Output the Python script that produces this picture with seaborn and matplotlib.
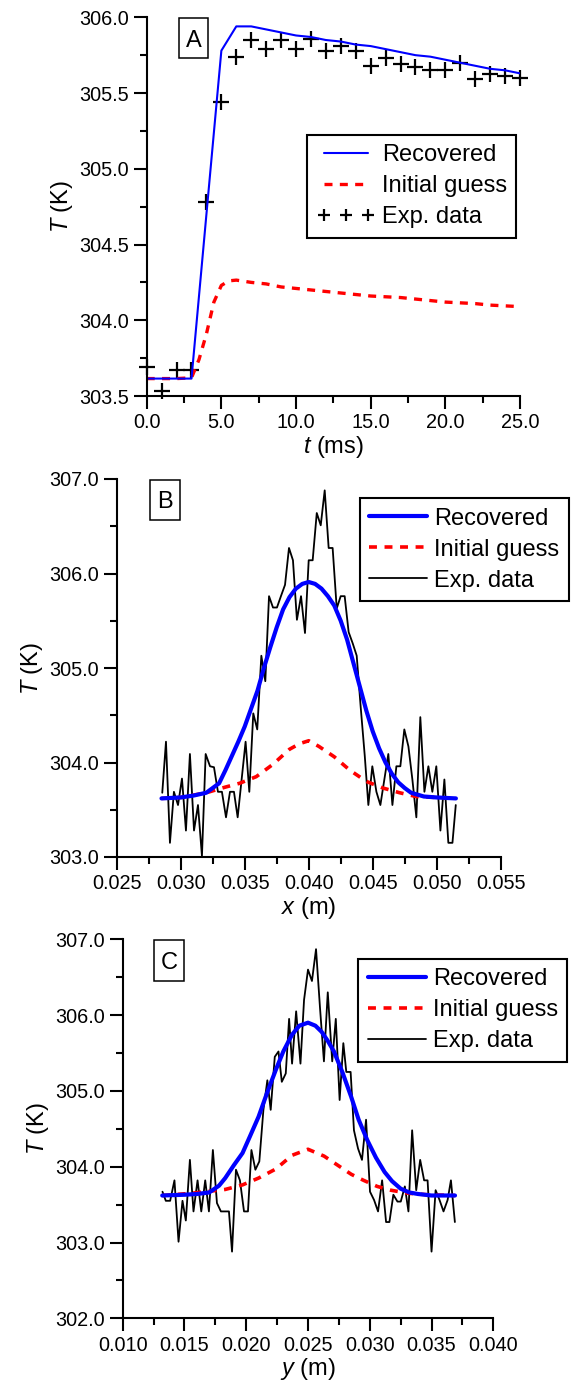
import numpy as np
import pandas as pd
import matplotlib
matplotlib.use("Agg")
import matplotlib.pyplot as plt
from matplotlib.ticker import MultipleLocator, FormatStrFormatter
from matplotlib.patches import Rectangle
import seaborn as sns

# ---------------- Panel A data ----------------
tA_exp = [0, 1, 2, 3, 4, 5, 6, 7, 8, 9, 10, 11, 12, 13, 14, 15, 16, 17, 18, 19, 20, 21, 22, 23, 24, 25]
TA_exp = [303.69, 303.53, 303.67, 303.67, 304.78, 305.44, 305.74, 305.85, 305.79, 305.85, 305.79, 305.86,
          305.78, 305.81, 305.78, 305.68, 305.73, 305.69, 305.67, 305.65, 305.65, 305.70, 305.59, 305.625,
          305.61, 305.60]
tA_rec = [0, 1, 2, 3, 4, 5, 6, 7, 8, 9, 10, 11, 12, 13, 14, 15, 16, 17, 18, 19, 20, 21, 22, 23, 24, 25]
TA_rec = [303.615, 303.615, 303.615, 303.615, 304.70, 305.78, 305.94, 305.94, 305.92, 305.90, 305.88, 305.87,
          305.85, 305.84, 305.82, 305.81, 305.79, 305.77, 305.75, 305.74, 305.72, 305.70, 305.68, 305.66,
          305.65, 305.63]
tA_ini = [0, 1, 2, 3, 3.5, 4, 4.5, 5, 5.5, 6, 7, 8, 9, 10, 11, 12, 13, 14, 15, 16, 17, 18, 19, 20, 21, 22, 23, 24, 25]
TA_ini = [303.615, 303.615, 303.615, 303.62, 303.74, 303.91, 304.12, 304.23, 304.26, 304.265, 304.25, 304.24,
          304.22, 304.21, 304.20, 304.19, 304.18, 304.17, 304.16, 304.155, 304.15, 304.14, 304.13, 304.12,
          304.115, 304.11, 304.10, 304.095, 304.09]

# ---------------- Panel B data ----------------
xB_exp = [0.02856, 0.02885, 0.02916, 0.02947, 0.02979, 0.03010, 0.03041, 0.03072, 0.03104, 0.03135,
          0.03166, 0.03195, 0.03229, 0.03260, 0.03291, 0.03322, 0.03354, 0.03385, 0.03416, 0.03445,
          0.03476, 0.03507, 0.03536, 0.03567, 0.03598, 0.03630, 0.03661, 0.03690, 0.03721, 0.03752,
          0.03783, 0.03815, 0.03846, 0.03877, 0.03908, 0.03940, 0.03971, 0.04000, 0.04031, 0.04063,
          0.04094, 0.04125, 0.04156, 0.04187, 0.04219, 0.04250, 0.04281, 0.04312, 0.04344, 0.04375,
          0.04406, 0.04438, 0.04466, 0.04497, 0.04529, 0.04560, 0.04591, 0.04622, 0.04654, 0.04685,
          0.04716, 0.04747, 0.04779, 0.04810, 0.04841, 0.04872, 0.04904, 0.04935, 0.04966, 0.04997,
          0.05029, 0.05060, 0.05091, 0.05123, 0.05149]
TB_exp = [303.68, 304.22, 303.15, 303.69, 303.55, 303.83, 303.28, 304.09, 303.28, 303.55,
          303.01, 304.09, 303.96, 303.95, 303.69, 303.69, 303.42, 303.69, 303.69, 303.42,
          303.82, 304.22, 303.69, 304.52, 304.35, 305.13, 304.86, 305.76, 305.64, 305.64,
          305.76, 305.88, 306.27, 306.14, 305.51, 305.76, 305.37, 306.14, 306.14, 306.64,
          306.51, 306.88, 306.27, 306.27, 305.63, 305.76, 305.76, 305.38, 305.26, 305.13,
          304.59, 304.07, 303.55, 303.96, 303.69, 303.55, 303.82, 304.09, 303.55, 303.96,
          303.96, 304.35, 304.17, 303.82, 303.42, 304.48, 303.69, 303.96, 303.69, 303.96,
          303.28, 303.82, 303.15, 303.15, 303.55]
xB_rec = [0.0285, 0.0300, 0.0310, 0.0320, 0.0330, 0.0335, 0.0340, 0.0345, 0.0350, 0.0355, 0.0360,
          0.0365, 0.0370, 0.0375, 0.0380, 0.0385, 0.0390, 0.0395, 0.0400, 0.0405, 0.0410, 0.0415,
          0.0420, 0.0425, 0.0430, 0.0435, 0.0440, 0.0445, 0.0450, 0.0455, 0.0460, 0.0465, 0.0470,
          0.0475, 0.0480, 0.0490, 0.0500, 0.0515]
TB_rec = [303.62, 303.63, 303.65, 303.68, 303.78, 303.92, 304.07, 304.22, 304.38, 304.57, 304.76,
          305.00, 305.22, 305.43, 305.62, 305.75, 305.84, 305.89, 305.91, 305.89, 305.84, 305.76,
          305.66, 305.50, 305.30, 305.05, 304.80, 304.55, 304.33, 304.15, 304.00, 303.88, 303.79,
          303.73, 303.68, 303.64, 303.63, 303.62]
xB_ini = [0.0285, 0.0300, 0.0320, 0.0335, 0.0346, 0.0359, 0.0372, 0.0385, 0.0393, 0.0400, 0.0408,
          0.0420, 0.0432, 0.0445, 0.0458, 0.0471, 0.0484, 0.0500, 0.0515]
TB_ini = [303.62, 303.63, 303.68, 303.74, 303.78, 303.85, 303.98, 304.14, 304.20, 304.23, 304.17,
          304.06, 303.92, 303.80, 303.73, 303.68, 303.64, 303.63, 303.62]

# ---------------- Panel C data ----------------
yC_exp = [0.01322, 0.01349, 0.01384, 0.01419, 0.01452, 0.01484, 0.01511, 0.01544, 0.01573, 0.01606,
          0.01636, 0.01668, 0.01698, 0.01730, 0.01763, 0.01795, 0.01828, 0.01860, 0.01885, 0.01917,
          0.01949, 0.01982, 0.02014, 0.02042, 0.02074, 0.02106, 0.02139, 0.02171, 0.02198, 0.02231,
          0.02261, 0.02288, 0.02320, 0.02347, 0.02371, 0.02404, 0.02439, 0.02468, 0.02500, 0.02532,
          0.02565, 0.02597, 0.02629, 0.02660, 0.02696, 0.02725, 0.02756, 0.02786, 0.02810, 0.02845,
          0.02872, 0.02905, 0.02937, 0.02970, 0.03002, 0.03035, 0.03067, 0.03100, 0.03132, 0.03159,
          0.03191, 0.03224, 0.03251, 0.03284, 0.03313, 0.03343, 0.03376, 0.03408, 0.03440, 0.03468,
          0.03500, 0.03533, 0.03565, 0.03597, 0.03630, 0.03657, 0.03689]
TC_exp = [303.67, 303.55, 303.55, 303.82, 303.01, 303.55, 303.29, 304.09, 303.41, 303.82,
          303.41, 303.82, 303.41, 304.22, 303.52, 303.41, 303.41, 303.41, 302.88, 303.96,
          303.82, 303.41, 303.41, 304.22, 303.96, 304.07, 304.75, 305.14, 304.75, 305.45,
          305.52, 305.12, 305.23, 305.95, 305.36, 306.05, 305.36, 306.20, 306.60, 306.45,
          306.87, 306.10, 305.39, 306.30, 305.39, 305.95, 304.88, 305.63, 305.25, 305.25,
          304.48, 304.24, 304.09, 304.62, 303.67, 303.56, 303.41, 303.82, 303.27, 303.27,
          303.63, 303.54, 303.54, 303.74, 303.41, 304.48, 303.69, 304.09, 303.82, 303.82,
          302.88, 303.69, 303.56, 303.41, 303.56, 303.82, 303.27]
yC_rec = [0.0132, 0.0150, 0.0160, 0.0170, 0.0178, 0.0183, 0.0190, 0.0197, 0.0203, 0.0210, 0.0217,
          0.0224, 0.0230, 0.0237, 0.0243, 0.0250, 0.0256, 0.0261, 0.0266, 0.0271, 0.0278, 0.0285,
          0.0291, 0.0298, 0.0305, 0.0312, 0.0318, 0.0325, 0.0332, 0.0339, 0.0350, 0.0369]
TC_rec = [303.62, 303.63, 303.64, 303.66, 303.75, 303.85, 304.02, 304.18, 304.40, 304.66, 304.98,
          305.28, 305.52, 305.74, 305.86, 305.90, 305.86, 305.78, 305.66, 305.52, 305.24, 304.92,
          304.62, 304.35, 304.12, 303.93, 303.81, 303.71, 303.66, 303.64, 303.62, 303.62]
yC_ini = [0.0132, 0.0156, 0.0183, 0.0197, 0.0210, 0.0224, 0.0237, 0.0250, 0.0263, 0.0274, 0.0285,
          0.0295, 0.0306, 0.0317, 0.0331, 0.0347, 0.0369]
TC_ini = [303.62, 303.65, 303.70, 303.76, 303.85, 303.97, 304.15, 304.23, 304.14, 304.02, 303.90,
          303.82, 303.74, 303.69, 303.65, 303.63, 303.62]

legend_labels = ["Recovered", "Initial guess", "Exp. data"]
panel_tags = ["A", "B", "C"]

# ---------------- Styling ----------------
sns.set_theme(style="ticks")
plt.rcParams["font.family"] = ["Liberation Sans", "DejaVu Sans"]
plt.rcParams["mathtext.fontset"] = "custom"
plt.rcParams["mathtext.rm"] = "Liberation Sans"
plt.rcParams["mathtext.it"] = "Liberation Sans:italic"
plt.rcParams["axes.unicode_minus"] = False
plt.rcParams["text.color"] = "black"
plt.rcParams["axes.labelcolor"] = "black"
plt.rcParams["xtick.color"] = "black"
plt.rcParams["ytick.color"] = "black"

W, H = 574, 1389
fig = plt.figure(figsize=(W / 100, H / 100), dpi=100)
fig.patch.set_facecolor("white")


def px_axes(x0, x1, ytop, ybot):
    return fig.add_axes([x0 / W, 1 - ybot / H, (x1 - x0) / W, (ybot - ytop) / H])


def style_axes(ax, xlim, ylim, xmaj, xmin, ymaj, ymin, xfmt, yfmt, xlabel):
    ax.set_facecolor("white")
    ax.set_xlim(*xlim)
    ax.set_ylim(*ylim)
    ax.xaxis.set_major_locator(MultipleLocator(xmaj))
    ax.xaxis.set_minor_locator(MultipleLocator(xmin))
    ax.yaxis.set_major_locator(MultipleLocator(ymaj))
    ax.yaxis.set_minor_locator(MultipleLocator(ymin))
    ax.xaxis.set_major_formatter(FormatStrFormatter(xfmt))
    ax.yaxis.set_major_formatter(FormatStrFormatter(yfmt))
    for s in ["top", "right"]:
        ax.spines[s].set_visible(False)
    for s in ["left", "bottom"]:
        ax.spines[s].set_linewidth(1.5)
        ax.spines[s].set_color("black")
    ax.tick_params(which="major", direction="out", length=9.5, width=1.5, color="black",
                   labelsize=14.3, labelcolor="black", pad=3)
    ax.tick_params(which="minor", direction="out", length=5, width=1.5, color="black")
    ax.set_xlabel(xlabel, fontsize=17, labelpad=1, color="black")
    ax.set_ylabel(r"$T$ (K)", fontsize=17, labelpad=3, color="black")
    ax.grid(False)


def tag(x0, y0, x1, y1, s):
    fig.add_artist(Rectangle((x0 / W, 1 - y1 / H), (x1 - x0) / W, (y1 - y0) / H,
                             transform=fig.transFigure, facecolor="white", edgecolor="black",
                             linewidth=1.1, zorder=5))
    cy = (y0 + y1) / 2
    fig.text((x0 + x1) / 2 / W, 1 - (cy + 8.3) / H, s, ha="center", va="baseline",
             fontsize=17, color="black", zorder=6)


def add_legend(ax, handles, anchor, numpoints=1, markerscale=1.0):
    leg = ax.legend(handles, legend_labels, loc="upper left", bbox_to_anchor=anchor,
                    frameon=True, fancybox=False, edgecolor="black", framealpha=1, fontsize=17,
                    handlelength=2.45, handletextpad=0.3, borderpad=0.4, labelspacing=0.38,
                    borderaxespad=0, numpoints=numpoints, markerscale=markerscale)
    leg.get_frame().set_linewidth(1.5)
    for t in leg.get_texts():
        t.set_color("black")
    return leg


# ---------------- Panel A ----------------
axA = px_axes(146.7, 520, 17.3, 396)
sns.lineplot(x=tA_exp, y=TA_exp, ax=axA, marker="+", linestyle="", markersize=12,
             mew=1.6, mec="black", color="black", sort=False, estimator=None, clip_on=False)
hA_exp = axA.lines[-1]
sns.lineplot(x=tA_ini, y=TA_ini, ax=axA, color="#ff0000", lw=2.4, linestyle=(0, (2.4, 2.2)),
             sort=False, estimator=None)
hA_ini = axA.lines[-1]
sns.lineplot(x=tA_rec, y=TA_rec, ax=axA, color="#0000ff", lw=1.5, sort=False, estimator=None)
hA_rec = axA.lines[-1]
style_axes(axA, (0, 25), (303.5, 306.0), 5, 2.5, 0.5, 0.25, "%.1f", "%.1f", r"$t$ (ms)")
add_legend(axA, [hA_rec, hA_ini, hA_exp], ((307.3 - 146.7) / 373.3, (396 - 135) / 378.7),
           numpoints=3, markerscale=0.72)
tag(179, 18.3, 208.3, 58.3, panel_tags[0])

# ---------------- Panel B ----------------
axB = px_axes(116.7, 500.7, 479, 857)
sns.lineplot(x=xB_exp, y=TB_exp, ax=axB, color="black", lw=1.3, sort=False, estimator=None)
hB_exp = axB.lines[-1]
sns.lineplot(x=xB_ini, y=TB_ini, ax=axB, color="#ff0000", lw=2.6, linestyle=(0, (2.2, 2.1)),
             sort=False, estimator=None)
hB_ini = axB.lines[-1]
sns.lineplot(x=xB_rec, y=TB_rec, ax=axB, color="#0000ff", lw=3.0, sort=False, estimator=None)
hB_rec = axB.lines[-1]
style_axes(axB, (0.025, 0.055), (303.0, 307.0), 0.005, 0.0025, 1.0, 0.5, "%.3f", "%.1f", r"$x$ (m)")
add_legend(axB, [hB_rec, hB_ini, hB_exp], ((360 - 116.7) / 384, (857 - 498.3) / 378))
tag(150, 480, 180, 520, panel_tags[1])

# ---------------- Panel C ----------------
axC = px_axes(122.7, 493.3, 939.3, 1318.3)
sns.lineplot(x=yC_exp, y=TC_exp, ax=axC, color="black", lw=1.3, sort=False, estimator=None)
hC_exp = axC.lines[-1]
sns.lineplot(x=yC_ini, y=TC_ini, ax=axC, color="#ff0000", lw=2.6, linestyle=(0, (2.2, 2.1)),
             sort=False, estimator=None)
hC_ini = axC.lines[-1]
sns.lineplot(x=yC_rec, y=TC_rec, ax=axC, color="#0000ff", lw=3.0, sort=False, estimator=None)
hC_rec = axC.lines[-1]
style_axes(axC, (0.010, 0.040), (302.0, 307.0), 0.005, 0.0025, 1.0, 0.5, "%.3f", "%.1f", r"$y$ (m)")
add_legend(axC, [hC_rec, hC_ini, hC_exp], ((358.3 - 122.7) / 370.6, (1318.3 - 959) / 379))
tag(154, 940, 184, 981, panel_tags[2])

fig.savefig("out.png", dpi=100, facecolor="white")
